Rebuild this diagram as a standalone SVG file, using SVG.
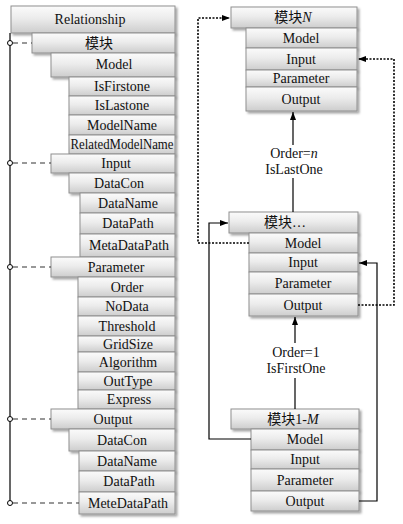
<svg xmlns="http://www.w3.org/2000/svg" width="403" height="524" viewBox="0 0 403 524">
<defs>
<linearGradient id="g" x1="0" y1="0" x2="0" y2="1">
<stop offset="0" stop-color="#fbfbfb"/>
<stop offset="0.45" stop-color="#ececec"/>
<stop offset="1" stop-color="#cdcdcd"/>
</linearGradient>
<filter id="sh" x="-10%" y="-20%" width="130%" height="160%">
<feDropShadow dx="2" dy="2" stdDeviation="0.8" flood-color="#000" flood-opacity="0.35"/>
</filter>
<marker id="ah" viewBox="0 0 8 6" refX="8" refY="3" markerWidth="8" markerHeight="6" markerUnits="userSpaceOnUse" orient="auto">
<path d="M0,0 L8,3 L0,6 z" fill="#000"/>
</marker>
<style>
.b{fill:url(#g);stroke:#8f8f8f;stroke-width:1;filter:url(#sh)}
.t{font-family:'Liberation Serif','Times New Roman',serif;font-size:14px;text-anchor:middle;fill:#111}
.cj{font-family:'Noto Sans CJK SC',sans-serif;font-size:14px}
.s{fill:none;stroke:#000;stroke-width:1.2}
.d{fill:none;stroke:#333;stroke-width:1.2;stroke-dasharray:5,4}
.o{fill:none;stroke:#000;stroke-width:1.6;stroke-dasharray:2,1.5}
.c{fill:#fff;stroke:#000;stroke-width:1}
</style>
</defs>
<rect width="403" height="524" fill="#fff"/>

<g id="tree">
<g id="n-relationship"><rect class="b" x="11" y="6" width="164" height="27"/><text class="t" x="90" y="24">Relationship</text></g>
<g id="n-module"><rect class="b" x="32" y="33" width="143" height="20"/><text class="t" x="99" y="48"><tspan class="cj">模块</tspan></text></g>
<g id="n-model"><rect class="b" x="51" y="53" width="124" height="24"/><text class="t" x="114" y="69">Model</text></g>
<g id="n-isfirst"><rect class="b" x="69" y="77" width="106" height="19"/><text class="t" x="122" y="91">IsFirstone</text></g>
<g id="n-islast"><rect class="b" x="69" y="96" width="106" height="19"/><text class="t" x="122" y="110">IsLastone</text></g>
<g id="n-modelname"><rect class="b" x="69" y="115" width="106" height="20"/><text class="t" x="122" y="130">ModelName</text></g>
<g id="n-related"><rect class="b" x="69" y="135" width="106" height="19"/><text class="t" x="122" y="149" textLength="103" lengthAdjust="spacingAndGlyphs">RelatedModelName</text></g>
<g id="n-input"><rect class="b" x="51" y="154" width="124" height="19"/><text class="t" x="116" y="168">Input</text></g>
<g id="n-datacon1"><rect class="b" x="69" y="173" width="106" height="20"/><text class="t" x="119" y="188">DataCon</text></g>
<g id="n-dataname1"><rect class="b" x="80" y="193" width="95" height="20"/><text class="t" x="128" y="208">DataName</text></g>
<g id="n-datapath1"><rect class="b" x="80" y="213" width="95" height="21"/><text class="t" x="128" y="228">DataPath</text></g>
<g id="n-metadatapath"><rect class="b" x="80" y="234" width="95" height="23"/><text class="t" x="129" y="250">MetaDataPath</text></g>
<g id="n-parameter"><rect class="b" x="51" y="257" width="124" height="20"/><text class="t" x="116" y="272">Parameter</text></g>
<g id="n-order"><rect class="b" x="78" y="277" width="97" height="20"/><text class="t" x="127" y="292">Order</text></g>
<g id="n-nodata"><rect class="b" x="78" y="297" width="97" height="19"/><text class="t" x="127" y="311">NoData</text></g>
<g id="n-threshold"><rect class="b" x="78" y="316" width="97" height="20"/><text class="t" x="127" y="331">Threshold</text></g>
<g id="n-gridsize"><rect class="b" x="78" y="336" width="97" height="16"/><text class="t" x="128" y="349">GridSize</text></g>
<g id="n-algorithm"><rect class="b" x="78" y="352" width="97" height="20"/><text class="t" x="128" y="367">Algorithm</text></g>
<g id="n-outtype"><rect class="b" x="78" y="372" width="97" height="18"/><text class="t" x="128" y="386">OutType</text></g>
<g id="n-express"><rect class="b" x="78" y="390" width="97" height="19"/><text class="t" x="129" y="404">Express</text></g>
<g id="n-output"><rect class="b" x="51" y="409" width="124" height="20"/><text class="t" x="113" y="424">Output</text></g>
<g id="n-datacon2"><rect class="b" x="69" y="429" width="106" height="22"/><text class="t" x="122" y="445">DataCon</text></g>
<g id="n-dataname2"><rect class="b" x="79" y="451" width="96" height="20"/><text class="t" x="127" y="466">DataName</text></g>
<g id="n-datapath2"><rect class="b" x="79" y="471" width="96" height="21"/><text class="t" x="129" y="486">DataPath</text></g>
<g id="n-metedatapath"><rect class="b" x="79" y="492" width="96" height="22"/><text class="t" x="128" y="508">MeteDataPath</text></g>
</g>

<g id="moduleN">
<rect class="b" x="231" y="7" width="126" height="21"/><text class="t" x="293" y="22"><tspan class="cj">模块</tspan><tspan font-style="italic">N</tspan></text>
<rect class="b" x="246" y="28" width="111" height="20"/><text class="t" x="301" y="43">Model</text>
<rect class="b" x="246" y="48" width="111" height="22"/><text class="t" x="301" y="64">Input</text>
<rect class="b" x="246" y="70" width="111" height="17"/><text class="t" x="301" y="83">Parameter</text>
<rect class="b" x="246" y="87" width="111" height="24"/><text class="t" x="301" y="104">Output</text>
</g>

<g id="moduleMid">
<rect class="b" x="229" y="212" width="129" height="21"/><text class="t" x="285" y="227"><tspan class="cj">模块</tspan>…</text>
<rect class="b" x="249" y="233" width="109" height="20"/><text class="t" x="303" y="248">Model</text>
<rect class="b" x="249" y="253" width="109" height="19"/><text class="t" x="303" y="267">Input</text>
<rect class="b" x="249" y="272" width="109" height="22"/><text class="t" x="303" y="288">Parameter</text>
<rect class="b" x="249" y="294" width="109" height="22"/><text class="t" x="303" y="310">Output</text>
</g>

<g id="module1M">
<rect class="b" x="231" y="409" width="128" height="20"/><text class="t" x="293" y="424"><tspan class="cj">模块</tspan>1-<tspan font-style="italic">M</tspan></text>
<rect class="b" x="251" y="429" width="108" height="21"/><text class="t" x="305" y="444">Model</text>
<rect class="b" x="251" y="450" width="108" height="19"/><text class="t" x="305" y="464">Input</text>
<rect class="b" x="251" y="469" width="108" height="22"/><text class="t" x="305" y="485">Parameter</text>
<rect class="b" x="251" y="491" width="108" height="20"/><text class="t" x="305" y="506">Output</text>
</g>

<g id="connectors">
<path class="s" d="M10,33 V503"/>
<path class="d" d="M13,43 H32"/>
<path class="d" d="M13,163 H51"/>
<path class="d" d="M13,267 H51"/>
<path class="d" d="M13,419 H51"/>
<path class="d" d="M13,503 H79"/>
<circle class="c" cx="10" cy="43" r="2.5"/>
<circle class="c" cx="10" cy="163" r="2.5"/>
<circle class="c" cx="10" cy="267" r="2.5"/>
<circle class="c" cx="10" cy="419" r="2.5"/>
<circle class="c" cx="10" cy="503" r="2.5"/>

<path class="s" d="M293,212 V178"/>
<path class="s" d="M293,145 V112" marker-end="url(#ah)"/>
<text class="t" x="294" y="158">Order=<tspan font-style="italic">n</tspan></text>
<text class="t" x="294" y="174">IsLastOne</text>

<path class="s" d="M295,409 V378"/>
<path class="s" d="M295,343 V317" marker-end="url(#ah)"/>
<text class="t" x="296" y="357">Order=1</text>
<text class="t" x="296" y="373">IsFirstOne</text>

<path class="o" d="M249,243 H198 V18 H230" marker-end="url(#ah)"/>
<path class="o" d="M358,305 H394 V59 H358" marker-end="url(#ah)"/>
<path class="s" d="M251,439 H209 V223 H228" marker-end="url(#ah)"/>
<path class="s" d="M359,501 H377 V263 H359" marker-end="url(#ah)"/>
</g>
</svg>
